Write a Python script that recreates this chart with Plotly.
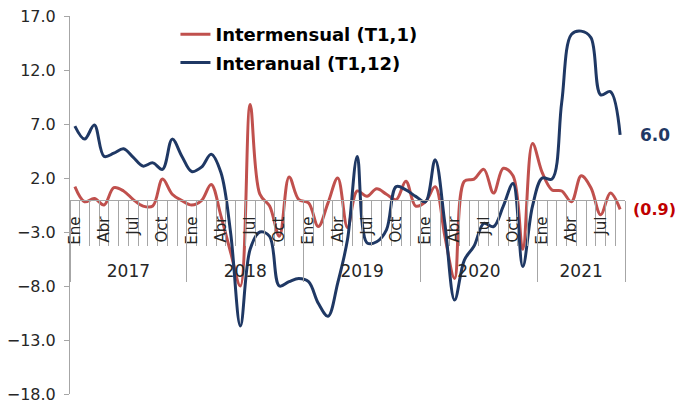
import plotly.graph_objects as go

years = ["2017", "2018", "2019", "2020", "2021"]
months_per_year = [12, 12, 12, 12, 9]
month_names = ["Ene", "Feb", "Mar", "Abr", "May", "Jun", "Jul", "Ago", "Sep", "Oct", "Nov", "Dic"]
shown_months = ["Ene", "Abr", "Jul", "Oct"]

intermensual = [1.2, -0.2, 0.1, -0.5, 1.1, 0.8, 0.0, -0.6, -0.6, 1.9, 0.5, -0.1,
                -0.5, -0.1, 1.4, -1.5, -4.9, -8.0, 8.8, 0.5, -0.6, -3.4, 2.1, 0.0,
                -0.3, -2.5, -0.3, 2.0, -2.6, 0.8, 0.3, 1.0, 0.5, 0.0, 1.7, -0.6,
                -0.2, 1.2, -3.4, -7.3, 1.7, 1.9, 2.8, 0.6, 2.9, 2.2, -4.6, 5.2,
                2.5, 0.9, 0.8, -0.2, 2.2, 1.1, -1.4, 0.6, -0.9]
interanual = [6.8, 5.6, 6.9, 4.0, 4.3, 4.7, 3.9, 3.1, 3.4, 2.8, 5.6, 4.0,
              2.6, 3.0, 4.2, 2.5, -3.1, -11.7, -4.6, -3.0, -3.4, -8.0, -7.6, -7.3,
              -7.6, -9.6, -10.8, -7.7, -3.7, 4.0, -4.0, -3.9, -2.8, 1.2, 0.9, 0.3,
              -0.2, 3.7, -2.2, -9.3, -5.6, -4.3, -2.2, -2.5, -0.6, 1.5, -6.2, -0.6,
              2.0, 1.9, 9.0, 15.3, 15.6, 15.0, 9.7, 10.0, 6.0]
y_ticks = [-18, -13, -8, -3, 2, 7, 12, 17]

RED = "#C0504D"
BLUE = "#1F3864"
GRID = "#A6A6A6"
FONT = "DejaVu Sans"

month_labels = []
for yi, n in enumerate(months_per_year):
    for m in range(n):
        month_labels.append(month_names[m])
idx = list(range(len(month_labels)))
tick_idx = [i for i, m in enumerate(month_labels) if m in shown_months]
tick_txt = [month_labels[i] for i in tick_idx]

year_bounds = [-0.5]
for n in months_per_year:
    year_bounds.append(year_bounds[-1] + n)
year_centers = [(year_bounds[i] + year_bounds[i + 1]) / 2 for i in range(len(years))]

xr = [-0.5, len(idx) - 0.5]
ypos = (0 - y_ticks[0]) / (y_ticks[-1] - y_ticks[0])

fig = go.Figure()
fig.add_trace(go.Scatter(x=idx, y=intermensual, mode="lines", name="Intermensual (T1,1)",
                         line=dict(color=RED, width=3, shape="spline", smoothing=1),
                         legendgroup="a"))
fig.add_trace(go.Scatter(x=idx, y=interanual, mode="lines", name="Interanual (T1,12)",
                         line=dict(color=BLUE, width=3, shape="spline", smoothing=1),
                         legendgroup="b"))
fig.add_trace(go.Scatter(x=[], y=[], xaxis="x2", showlegend=False))

fig.add_annotation(x=idx[-1], y=interanual[-1], text="<b>%.1f</b>" % interanual[-1],
                   xanchor="left", showarrow=False, xshift=18,
                   font=dict(family=FONT, size=17, color=BLUE))
fig.add_annotation(x=idx[-1], y=intermensual[-1], text="<b>(%.1f)</b>" % abs(intermensual[-1]),
                   xanchor="left", showarrow=False, xshift=11,
                   font=dict(family=FONT, size=16, color="#C00000"))

fig.update_layout(
    width=675, height=397,
    margin=dict(l=62, r=58, t=8, b=11, autoexpand=False),
    paper_bgcolor="white", plot_bgcolor="white",
    font=dict(family=FONT, size=14, color="#262626"),
    showlegend=True,
    legend=dict(x=0.19, y=1.0, xanchor="left", yanchor="top",
                font=dict(family=FONT, size=18, color="black", weight="bold"),
                traceorder="grouped", tracegroupgap=2, bgcolor="rgba(0,0,0,0)"),
    yaxis=dict(range=[y_ticks[0], y_ticks[-1]], tickvals=y_ticks, tickformat=".1f",
               showline=True, linecolor=GRID, linewidth=1, ticks="outside", ticklen=5,
               tickcolor=GRID, showgrid=False, zeroline=False, ticklabelstandoff=5,
               tickfont=dict(size=16), automargin=False, ticklabeloverflow="allow"),
    xaxis=dict(range=xr, anchor="free", position=ypos, showline=True, linecolor=GRID,
               linewidth=1, tickmode="array", tickvals=tick_idx, ticktext=tick_txt,
               tickangle=-90, ticks="", showgrid=False, zeroline=False,
               ticklabelstandoff=10, tickfont=dict(size=15), automargin=False,
               minor=dict(ticks="outside", tickmode="linear", tick0=-0.5, dtick=1,
                          ticklen=45, tickcolor=GRID, tickwidth=1, showgrid=False)),
    xaxis2=dict(range=xr, anchor="free", position=ypos, overlaying="x", side="bottom",
                showline=False, tickmode="array", tickvals=year_centers, ticktext=years,
                ticks="", showgrid=False, zeroline=False, ticklabelstandoff=59,
                tickfont=dict(size=17), automargin=False,
                minor=dict(ticks="outside", tickmode="array", tickvals=year_bounds,
                           ticklen=81, tickcolor=GRID, tickwidth=1, showgrid=False)),
)

fig.write_html("out.html")
